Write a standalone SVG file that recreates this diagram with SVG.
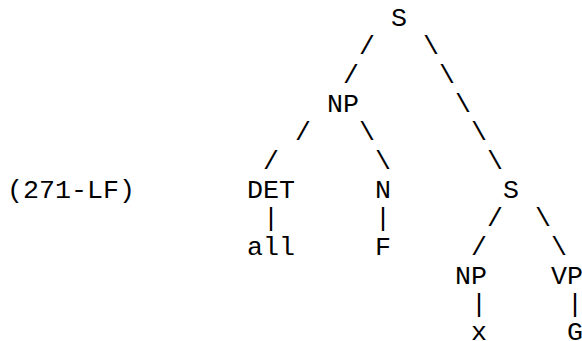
<svg xmlns="http://www.w3.org/2000/svg" width="582" height="341" viewBox="0 0 582 341">
  <style>
    text { font-family: "Courier New", "Nimbus Mono PS", "FreeMono", Courier, "Liberation Mono", monospace; font-size: 26.67px; fill: #000; text-anchor: middle; }
  </style>
  <rect width="582" height="341" fill="#fff"/>
  <!-- monospace grid: cell centre x = 15 + 16*col, baseline y = 25.7 + 28.67*row -->
  <text id="label" x="71" y="197.7">(271-LF)</text>

  <g id="s-root"><text x="399" y="25.7">S</text></g>
  <g id="np-1"><text x="343" y="111.7">NP</text></g>
  <g id="det"><text x="271" y="197.7">DET</text></g>
  <g id="n"><text x="383" y="197.7">N</text></g>
  <g id="s-inner"><text x="511" y="197.7">S</text></g>
  <g id="all"><text x="271" y="255.1">all</text></g>
  <g id="f"><text x="383" y="255.1">F</text></g>
  <g id="np-2"><text x="471" y="283.7">NP</text></g>
  <g id="vp"><text x="567" y="283.7">VP</text></g>
  <g id="x"><text x="479" y="340.3">x</text></g>
  <g id="g"><text x="575" y="340.3">G</text></g>

  <g id="connectors">
    <!-- S to NP / S -->
    <text x="367" y="54.4">/</text>
    <text x="351" y="83.0">/</text>
    <text x="431" y="54.4">\</text>
    <text x="447" y="83.0">\</text>
    <text x="463" y="111.7">\</text>
    <text x="479" y="140.4">\</text>
    <text x="495" y="169.1">\</text>
    <!-- NP to DET / N -->
    <text x="303" y="140.4">/</text>
    <text x="271" y="169.1">/</text>
    <text x="367" y="140.4">\</text>
    <text x="383" y="169.1">\</text>
    <!-- lexical bars -->
    <text x="271" y="226.4">|</text>
    <text x="383" y="226.4">|</text>
    <!-- S to NP / VP -->
    <text x="495" y="226.4">/</text>
    <text x="479" y="255.1">/</text>
    <text x="543" y="226.4">\</text>
    <text x="559" y="255.1">\</text>
    <text x="479" y="312.4">|</text>
    <text x="575" y="312.4">|</text>
  </g>
</svg>
